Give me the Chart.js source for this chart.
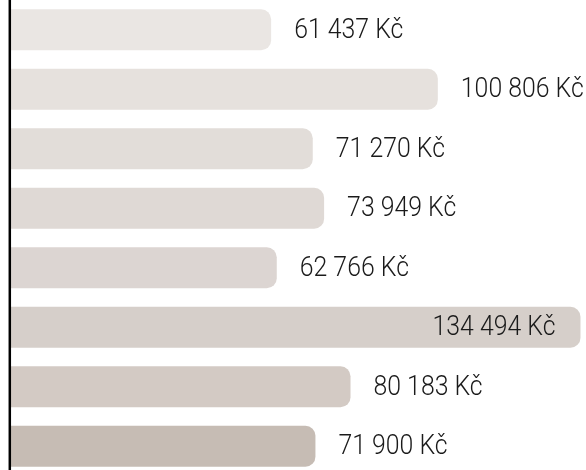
<!DOCTYPE html>
<html>
<head>
<meta charset="utf-8">
<script src="https://cdn.jsdelivr.net/npm/chart.js@4.4.1/dist/chart.umd.min.js"></script>
<style>
  html, body { margin: 0; padding: 0; background: #fff; overflow: hidden; }
  #wrap { position: relative; width: 586px; height: 476px; }
</style>
</head>
<body>
<div id="wrap"><canvas id="chartBase"></canvas></div>
<script>
const categorias = ["Položka 1", "Položka 2", "Položka 3", "Položka 4", "Položka 5", "Položka 6", "Položka 7", "Položka 8"];
const valores = [61437, 100806, 71270, 73949, 62766, 134494, 80183, 71900];
const colores = ["#eae6e3", "#e6e1dd", "#e2ddd9", "#dfd9d5", "#dcd5d2", "#d6cfca", "#d3cac4", "#c6bcb4"];
const moneda = "Kč";

function formatoKc(v) {
  // miles separados por espacio
  return String(v).replace(/\B(?=(\d{3})+(?!\d))/g, " ") + " " + moneda;
}

const ESCALA_X = 0.92; // texto algo "condensado"

const etiquetas = {
  id: "etiquetas",
  afterDatasetsDraw: function (chart) {
    const ctx = chart.ctx;
    const meta = chart.getDatasetMeta(0);
    const area = chart.chartArea;

    // eje vertical
    ctx.save();
    ctx.strokeStyle = "#000";
    ctx.lineWidth = 2.5;
    ctx.beginPath();
    ctx.moveTo(area.left - 1.2, 0);
    ctx.lineTo(area.left - 1.2, chart.height);
    ctx.stroke();
    ctx.restore();

    ctx.save();
    ctx.font = "300 27px Roboto, 'Liberation Sans', sans-serif";
    ctx.fillStyle = "#1a1a1a";
    ctx.textBaseline = "middle";
    for (let i = 0; i < meta.data.length; i++) {
      const bar = meta.data[i];
      const txt = formatoKc(valores[i]);
      const w = ctx.measureText(txt).width * ESCALA_X;
      let x0;
      if (bar.x + 24 + w > area.right) {
        x0 = bar.x - 25 - w;
      } else {
        x0 = bar.x + 23;
      }
      ctx.save();
      ctx.translate(x0, bar.y + 1);
      ctx.scale(ESCALA_X, 1);
      ctx.textAlign = "left";
      ctx.fillText(txt, 0, 0);
      ctx.restore();
    }
    ctx.restore();
  }
};

new Chart(document.getElementById("chartBase"), {
  type: "bar",
  data: {
    labels: categorias,
    datasets: [{
      data: valores,
      backgroundColor: colores,
      borderRadius: { topRight: 10, bottomRight: 10, topLeft: 0, bottomLeft: 0 },
      borderSkipped: false,
      barPercentage: 0.69,
      categoryPercentage: 1
    }]
  },
  options: {
    indexAxis: "y",
    responsive: true,
    maintainAspectRatio: false,
    animation: false,
    layout: { padding: { left: 11, right: 0, top: 0, bottom: 0 } },
    plugins: { legend: { display: false }, tooltip: { enabled: false } },
    scales: {
      x: { display: false, min: 0, max: 135800 },
      y: { display: false }
    }
  },
  plugins: [etiquetas]
});
</script>
</body>
</html>
